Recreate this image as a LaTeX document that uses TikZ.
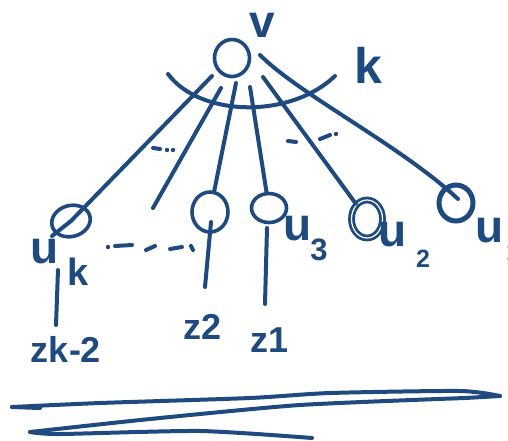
\documentclass[tikz,border=0pt]{standalone}
\usepackage{fontspec}
\setmainfont{Liberation Sans}
\usetikzlibrary{shapes.geometric}
\definecolor{ink}{HTML}{1F4A80}
\begin{document}
\begin{tikzpicture}[x=1pt,y=-1pt,
  stroke/.style={draw=ink,line width=4pt,line cap=round,line join=round},
  vert/.style={ellipse,draw=ink,line width=3.6pt,inner sep=0pt},
  lbl/.style={text=ink,inner sep=0pt,font=\fontsize{46}{46}\selectfont\bfseries},
  zl/.style={text=ink,inner sep=0pt,font=\fontsize{36}{36}\selectfont\bfseries}]
\useasboundingbox (0,0) rectangle (508,440);
% vertices
\node[vert,minimum width=35pt,minimum height=37pt] (v) at (232,58) {};
\node[vert,minimum width=39pt,minimum height=31pt,rotate=15] (uk) at (71,221) {};
\node[vert,minimum width=36pt,minimum height=40pt] (uj) at (210,212) {};
\node[vert,minimum width=35pt,minimum height=29pt] (u3) at (269,208) {};
\node[vert,double=white,double distance=1.2pt,line width=2.8pt,minimum width=31pt,minimum height=38pt] (u2) at (367,219) {};
\node[vert,line width=5pt,minimum width=34pt,minimum height=36pt] (u1) at (456,203) {};
% labels
\node[lbl] (vl) at (262,25) {v};
\node[lbl,font=\fontsize{50}{50}\selectfont\bfseries] (kl) at (368,65) {k};
\node[lbl] (ukl) at (45,252) {u};
\node[lbl,font=\fontsize{38}{38}\selectfont\bfseries] (uks) at (78,272) {k};
\node[lbl] (u3l) at (298,229) {u};
\node[lbl,font=\fontsize{31}{31}\selectfont\bfseries] (u3s) at (319,250) {3};
\node[lbl] (u2l) at (393,235) {u};
\node[lbl,font=\fontsize{25}{25}\selectfont\bfseries] (u2s) at (423,259) {2};
\node[lbl] (u1l) at (490,231) {u};
\node[lbl,font=\fontsize{25}{25}\selectfont\bfseries] (u1s) at (513,252) {1};
\node[zl] (zk) at (66,349) {zk-2};
\node[zl] (z2) at (203,327) {z2};
\node[zl] (z1) at (270,340) {z1};
% arc around v
\draw[stroke] (168,74) .. controls (200,117) and (290,119) .. (335,76);
% fan of edges
\coordinate (s1) at (212,76);  \coordinate (e1) at (52,236);
\coordinate (s2) at (221,88);  \coordinate (e2) at (153,208);
\coordinate (s3) at (236,83);
\coordinate (s4) at (250,87);
\coordinate (s5) at (263,77);
\coordinate (s6) at (260,55);  \coordinate (e6) at (458,199);
\draw[stroke] (s1) -- (uk.center) -- (e1);
\draw[stroke] (s2) -- (e2);
\draw[stroke] (s3) -- (uj);
\draw[stroke] (s4) -- (u3);
\draw[stroke] (s5) -- (u2);
\draw[stroke] (s6) .. controls (300,95) and (400,145) .. (e6);
% dots on the fan
\draw[stroke] (153,148) -- (160,149);
\fill[ink] (167,150) circle (2.2pt) (173,150) circle (2.2pt);
\draw[stroke] (288,141) -- (296,142);
\draw[stroke] (320,139) -- (330,135);
\fill[ink] (336,134) circle (2.2pt);
% dashes between u_k and u_j
\fill[ink] (108,247) circle (2.2pt);
\draw[stroke] (115,246) -- (132,245);
\draw[stroke] (146,250) -- (155,246);
\draw[stroke] (170,249) -- (182,247);
\draw[stroke] (191,246) -- (193,250);
% pendant edges
\coordinate (a1) at (58,270); \coordinate (b1) at (56,325);
\coordinate (a2) at (211,222); \coordinate (b2) at (205,287);
\coordinate (a3) at (267,228); \coordinate (b3) at (265,304);
\draw[stroke] (a1) -- (b1);
\draw[stroke] (a2) -- (b2);
\draw[stroke] (a3) -- (b3);
% underline scribble
\draw[stroke] (12,407) -- (40,408);
\draw[stroke] plot[smooth,tension=0.4] coordinates {(12,407) (100,403) (250,398) (330,393) (460,391) (500,396)};
\draw[stroke] (500,396) -- (465,398);
\draw[stroke] plot[smooth,tension=0.4] coordinates {(465,398) (300,405) (150,419) (30,432)};
\draw[stroke] plot[smooth,tension=0.4] coordinates {(30,432) (60,434) (200,431) (312,438)};
\end{tikzpicture}
\end{document}
